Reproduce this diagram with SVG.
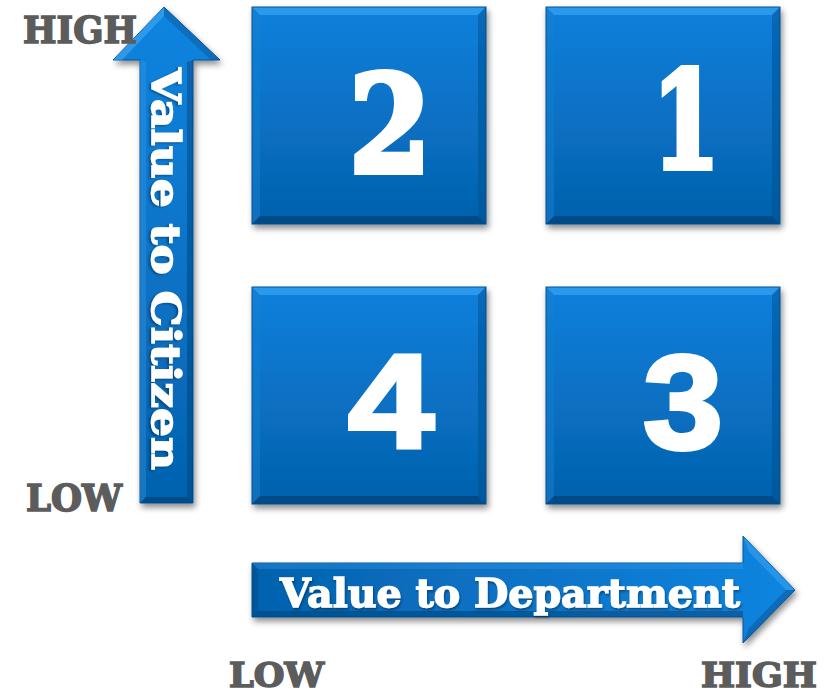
<svg xmlns="http://www.w3.org/2000/svg" xmlns:xlink="http://www.w3.org/1999/xlink" width="833" height="697" viewBox="0 0 833 697">
<style>
.lbl{font-family:"DejaVu Serif","Liberation Serif",serif;font-weight:bold;font-size:37px;fill:#5c5c5c;stroke:#5c5c5c;stroke-width:1.6px}
.low{font-size:34px}
.axis{font-family:"DejaVu Serif","Liberation Serif",serif;font-weight:bold;font-size:40px;fill:#ffffff;stroke:#ffffff;stroke-width:1.4px}
.num{font-weight:bold;font-size:134px;fill:#ffffff;stroke:#ffffff;text-anchor:middle}
.serif{font-family:"DejaVu Serif","Liberation Serif",serif;stroke-width:6px}
.sans{font-family:"Liberation Sans",Arial,sans-serif;stroke-width:4px}
</style>
<defs>
<linearGradient id="boxg" x1="0" y1="0" x2="0" y2="1">
<stop offset="0" stop-color="#0a80dc"/>
<stop offset="1" stop-color="#0561ac"/>
</linearGradient>
<linearGradient id="vg" gradientUnits="userSpaceOnUse" x1="0" y1="503" x2="0" y2="7">
<stop offset="0" stop-color="#0562ae"/>
<stop offset="1" stop-color="#0d85e0"/>
</linearGradient>
<linearGradient id="hg" gradientUnits="userSpaceOnUse" x1="252" y1="0" x2="795" y2="0">
<stop offset="0" stop-color="#0562ae"/>
<stop offset="1" stop-color="#0d85e0"/>
</linearGradient>
<filter id="sh" x="-10%" y="-10%" width="125%" height="130%">
<feGaussianBlur in="SourceAlpha" stdDeviation="3"/>
<feOffset dx="2" dy="4" result="b"/>
<feComponentTransfer><feFuncA type="linear" slope="0.45"/></feComponentTransfer>
<feMerge><feMergeNode/><feMergeNode in="SourceGraphic"/></feMerge>
</filter>
<filter id="tsh" x="-5%" y="-5%" width="110%" height="120%">
<feGaussianBlur in="SourceAlpha" stdDeviation="1"/>
<feOffset dx="1" dy="1.5"/>
<feComponentTransfer><feFuncA type="linear" slope="0.35"/></feComponentTransfer>
<feMerge><feMergeNode/><feMergeNode in="SourceGraphic"/></feMerge>
</filter>
<g id="tile">
<rect x="0" y="0" width="234" height="217" fill="url(#boxg)"/>
<polygon points="0,0 234,0 226,8 8,8" fill="#3aa2f2" opacity="0.7"/>
<polygon points="0,0 8,8 8,209 0,217" fill="#1a7fd0" opacity="0.5"/>
<polygon points="234,0 234,217 226,209 226,8" fill="#04508f" opacity="0.5"/>
<polygon points="0,217 8,209 226,209 234,217" fill="#033f73" opacity="0.65"/>
<rect x="0" y="0" width="234" height="217" fill="none" stroke="#04508f" stroke-width="1"/>
</g>
</defs>
<rect width="833" height="697" fill="#ffffff"/>

<g id="connectors">
<g id="axis-citizen" filter="url(#sh)">
<polygon points="164,7 220,60 193,60 193,503 140,503 140,60 113,60" fill="url(#vg)" stroke="#0a5599" stroke-width="1"/>
<polygon points="146,62 146,497 140,503 140,60" fill="#3b9be6" opacity="0.35"/>
<polygon points="187,62 187,497 193,503 193,60" fill="#033f73" opacity="0.45"/>
<polygon points="140,503 146,497 187,497 193,503" fill="#033f73" opacity="0.6"/>
<polygon points="164,7 220,60 211,60 164,16" fill="#033f73" opacity="0.3"/>
<polygon points="164,7 113,60 122,60 164,16" fill="#4fb0f7" opacity="0.5"/>
</g>
<g id="axis-department" filter="url(#sh)">
<polygon points="252,563 743,563 743,536 795,590 743,643 743,617 252,617" fill="url(#hg)" stroke="#0a5599" stroke-width="1"/>
<polygon points="252,563 743,563 743,569 258,569" fill="#3b9be6" opacity="0.35"/>
<polygon points="252,617 258,611 743,611 743,617" fill="#033f73" opacity="0.5"/>
<polygon points="252,563 258,569 258,611 252,617" fill="#033f73" opacity="0.35"/>
<polygon points="743,536 795,590 786,590 749,552" fill="#4fb0f7" opacity="0.4"/>
<polygon points="743,643 795,590 786,590 749,628" fill="#033f73" opacity="0.35"/>
</g>
</g>

<g id="node-2" filter="url(#sh)">
<use xlink:href="#tile" x="252" y="7"/>
<text class="num serif" x="390" y="172" textLength="82" lengthAdjust="spacingAndGlyphs">2</text>
</g>
<g id="node-1" filter="url(#sh)">
<use xlink:href="#tile" x="546" y="7"/>
<text class="num serif" x="686" y="168" textLength="68" lengthAdjust="spacingAndGlyphs">1</text>
</g>
<g id="node-4" filter="url(#sh)">
<use xlink:href="#tile" x="252" y="287"/>
<text class="num sans" x="391" y="448" textLength="86" lengthAdjust="spacingAndGlyphs">4</text>
</g>
<g id="node-3" filter="url(#sh)">
<use xlink:href="#tile" x="546" y="287"/>
<text class="num sans" x="683" y="449" textLength="80" lengthAdjust="spacingAndGlyphs">3</text>
</g>

<g id="axis-labels">
<text class="axis" filter="url(#tsh)" transform="translate(152,68) rotate(90)" x="0" y="0" textLength="402" lengthAdjust="spacingAndGlyphs">Value to Citizen</text>
<text class="axis" filter="url(#tsh)" x="280" y="607" textLength="460" lengthAdjust="spacingAndGlyphs">Value to Department</text>
<text class="lbl" x="23" y="43" textLength="114" lengthAdjust="spacingAndGlyphs">HIGH</text>
<text class="lbl" x="26" y="511" textLength="96" lengthAdjust="spacingAndGlyphs">LOW</text>
<text class="lbl low" x="229" y="687" textLength="95" lengthAdjust="spacingAndGlyphs">LOW</text>
<text class="lbl low" x="701" y="687" textLength="116" lengthAdjust="spacingAndGlyphs">HIGH</text>
</g>
</svg>
